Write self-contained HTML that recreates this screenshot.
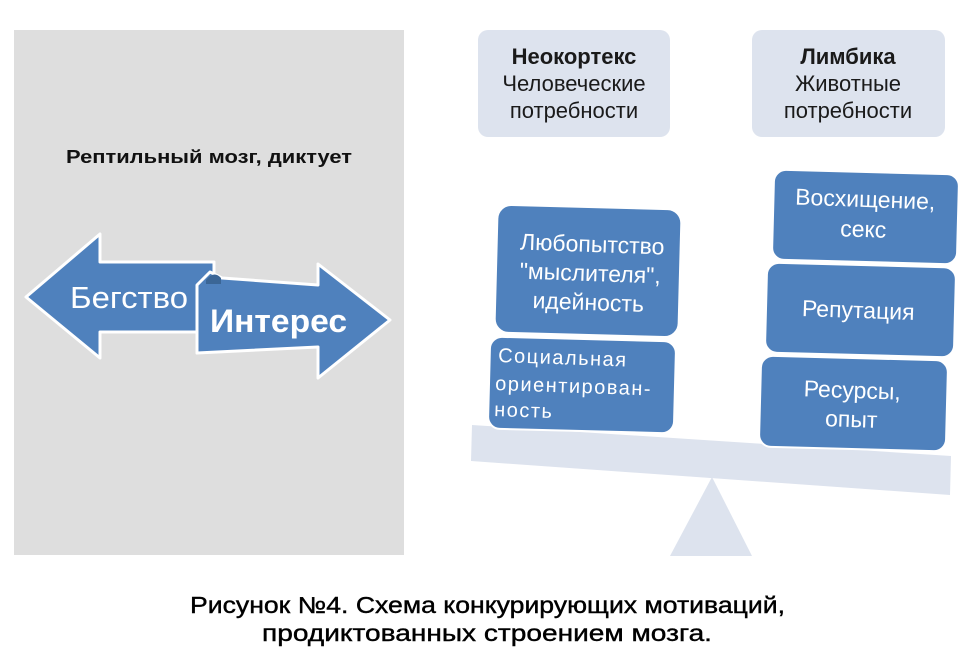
<!DOCTYPE html>
<html><head><meta charset="utf-8"><style>
html,body{margin:0;padding:0;background:#fff;}
svg{display:block;font-family:"Liberation Sans","DejaVu Sans",sans-serif;}
</style></head><body>
<svg width="974" height="672" viewBox="0 0 974 672" xmlns="http://www.w3.org/2000/svg">
<rect x="14" y="30" width="390" height="525" fill="#dedede"/>
<text x="66" y="163" font-size="18" font-weight="bold" fill="#111" textLength="286" lengthAdjust="spacingAndGlyphs">Рептильный мозг, диктует</text>
<polygon points="26,297 100,234 100,262 214,262 214,332 100,332 100,358" fill="#4f81bd" stroke="#fff" stroke-width="3" stroke-linejoin="round"/>
<path d="M197,285 L210,272 L222,278 L318,285 L318,264 L390,320 L318,378 L318,347 L197,353 Z" fill="#4f81bd" stroke="#fff" stroke-width="3" stroke-linejoin="round"/>
<path d="M206,280 Q214,270 221,278 L221,284 L206,284 Z" fill="#3b6696"/>
<text x="70" y="308" font-size="31" fill="#fff" textLength="118" lengthAdjust="spacingAndGlyphs">Бегство</text>
<text x="210" y="332" font-size="32" font-weight="bold" fill="#fff" textLength="137" lengthAdjust="spacingAndGlyphs">Интерес</text>
<rect x="478" y="30" width="192" height="107" rx="10" fill="#dde3ee"/>
<rect x="752" y="30" width="193" height="107" rx="10" fill="#dde3ee"/>
<g font-size="22" text-anchor="middle" fill="#1a1a1a">
<text x="574" y="64" font-weight="bold">Неокортекс</text>
<text x="574" y="91">Человеческие</text>
<text x="574" y="118">потребности</text>
<text x="848" y="64" font-weight="bold">Лимбика</text>
<text x="848" y="91">Животные</text>
<text x="848" y="118">потребности</text>
</g>
<polygon points="472,425 951,456 950,495 471,461" fill="#dde3ee"/>
<polygon points="712,477 670,556 752,556" fill="#dde3ee"/>
<g fill="#4f81bd" stroke="#fff" stroke-width="2">
<rect x="496" y="207" width="184" height="128" rx="14" transform="rotate(1.5 588 271)"/>
<rect x="489" y="339" width="186" height="92" rx="12" transform="rotate(1.5 582 385)"/>
<rect x="773" y="172" width="185" height="90" rx="12" transform="rotate(1.5 865 217)"/>
<rect x="766" y="265" width="189" height="90" rx="12" transform="rotate(1.5 860 310)"/>
<rect x="760" y="358" width="187" height="91" rx="12" transform="rotate(1.5 853 403)"/>
</g>
<g font-size="23" fill="#fff" text-anchor="middle">
<text x="592" y="252" transform="rotate(2 592 252)">Любопытство</text>
<text x="590" y="281" transform="rotate(2 590 281)">"мыслителя",</text>
<text x="588" y="310" transform="rotate(2 588 310)">идейность</text>
<text x="865" y="207" transform="rotate(2 865 207)">Восхищение,</text>
<text x="863" y="237" transform="rotate(2 863 237)">секс</text>
<text x="858" y="318" transform="rotate(2 858 318)">Репутация</text>
<text x="852" y="398" transform="rotate(2 852 398)">Ресурсы,</text>
<text x="851" y="427" transform="rotate(2 851 427)">опыт</text>
</g>
<g font-size="20" fill="#fff" letter-spacing="1.5">
<text x="498" y="362" transform="rotate(2 498 362)">Социальная</text>
<text x="495" y="390" transform="rotate(2 495 390)">ориентирован-</text>
<text x="494" y="416" transform="rotate(2 494 416)">ность</text>
</g>
<g font-size="23" fill="#000" stroke="#000" stroke-width="0.4">
<text x="190" y="613" textLength="595" lengthAdjust="spacingAndGlyphs">Рисунок №4. Схема конкурирующих мотиваций,</text>
<text x="262" y="641" textLength="450" lengthAdjust="spacingAndGlyphs">продиктованных строением мозга.</text>
</g>
</svg>
</body></html>
